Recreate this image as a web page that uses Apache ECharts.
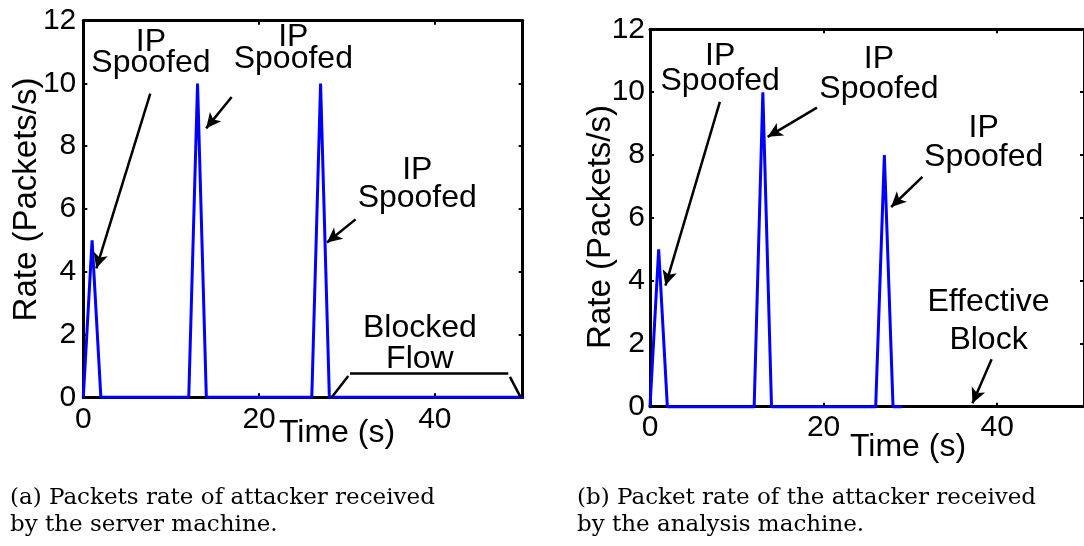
<!DOCTYPE html>
<html>
<head>
<meta charset="utf-8">
<script src="https://cdn.jsdelivr.net/npm/echarts@6/dist/echarts.min.js"></script>
<style>
html, body { margin: 0; padding: 0; background: #fff; }
#main { width: 1084px; height: 546px; }
</style>
</head>
<body>
<div id="main"></div>
<script>
// (a) server machine
var timeA = [0, 1, 2, 12, 13, 14, 26, 27, 28, 50]
var rateA = [0, 5, 0, 0, 10, 0, 0, 10, 0, 0]
// (b) analysis machine
var timeB = [0, 1, 2, 12, 13, 14, 26, 27, 28, 29]
var rateB = [0, 5, 0, 0, 10, 0, 0, 8, 0, 0]

var xTicks = [0, 20, 40]
var yTicks = [0, 2, 4, 6, 8, 10, 12]

// annotations, in data units
var noteTextA = ['IP\nSpoofed', 'IP\nSpoofed', 'IP\nSpoofed', 'Blocked\nFlow']
var noteXA = [7.7, 23.9, 38.0, 38.3]
var noteYA = [10.99, 11.11, 6.8, 1.7]
var arrowsA = [[7.62, 9.68, 1.48, 4.11], [16.88, 9.57, 13.98, 8.57], [30.98, 5.67, 27.73, 4.93]]
var bracketA = [[28.27, 0, 30.15, 0.68], [30.35, 0.765, 48.36, 0.765], [48.55, 0.65, 49.77, 0]]

var noteTextB = ['IP\nSpoofed', 'IP\nSpoofed', 'IP\nSpoofed', 'Effective\nBlock']
var noteXB = [8.08, 26.38, 38.44, 39.0]
var noteYB = [10.76, 10.58, 8.38, 2.71]
var arrowsB = [[8.05, 9.69, 1.78, 3.85], [19.24, 9.51, 13.55, 8.58], [31.38, 7.31, 27.78, 6.35], [39.36, 1.51, 37.15, 0.11]]

var captionA = ['(a) Packets rate of attacker received', 'by the server machine.']
var captionB = ['(b) Packet rate of the attacker received', 'by the analysis machine.']

var lineHA = [21, 22, 28, 31]
var lineHB = [25, 30, 29, 38]

var sans = 'Liberation Sans'
var myChart = echarts.init(document.getElementById('main'))

function zip(xs, ys) {
    var out = []
    for (var i = 0; i < xs.length; i++) out.push([xs[i], ys[i]])
    return out
}

function xAxisOf(g, pos, labelMargin, nameGap, namePad) {
    return {
        type: 'value', gridIndex: g, position: pos,
        min: 0, max: 50, interval: 20,
        axisLine: { show: true, onZero: false, lineStyle: { color: '#000', width: 3 } },
        axisTick: { show: true, inside: true, length: 4, lineStyle: { color: '#000', width: 2 } },
        axisLabel: { show: pos == 'bottom', color: '#000', fontSize: 30, fontFamily: sans, margin: labelMargin, showMaxLabel: false },
        splitLine: { show: false },
        name: pos == 'bottom' ? 'Time (s)' : '',
        nameLocation: 'middle', nameGap: nameGap, nameMoveOverlap: false,
        nameTextStyle: { color: '#000', fontSize: 32, fontFamily: sans, padding: namePad }
    }
}

function yAxisOf(g, pos, labelMargin, nameGap, namePad) {
    return {
        type: 'value', gridIndex: g, position: pos,
        min: 0, max: 12, interval: 2,
        axisLine: { show: true, onZero: false, lineStyle: { color: '#000', width: 3 } },
        axisTick: { show: true, inside: true, length: 4, lineStyle: { color: '#000', width: 2 } },
        axisLabel: { show: pos == 'left', color: '#000', fontSize: 30, fontFamily: sans, margin: labelMargin },
        splitLine: { show: false },
        name: pos == 'left' ? 'Rate (Packets/s)' : '',
        nameLocation: 'middle', nameGap: nameGap, nameMoveOverlap: false,
        nameTextStyle: { color: '#000', fontSize: 33, fontFamily: sans, padding: namePad }
    }
}

function rateSeries(idx, xs, ys, texts, nx, ny, lh, arrows, bracket) {
    var notes = []
    for (var i = 0; i < texts.length; i++) {
        notes.push({ coord: [nx[i], ny[i]], value: 0, label: { formatter: texts[i], lineHeight: lh[i] } })
    }
    var lines = []
    arrows.forEach(function (a) {
        lines.push([{ coord: [a[0], a[1]] }, { coord: [a[2], a[3]] }])
    })
    ;(bracket || []).forEach(function (b) {
        lines.push([{ coord: [b[0], b[1]], symbol: 'none' }, { coord: [b[2], b[3]], symbol: 'none' }])
    })
    return {
        type: 'line', xAxisIndex: idx, yAxisIndex: idx,
        data: zip(xs, ys),
        symbol: 'none', showSymbol: false, clip: false,
        lineStyle: { color: '#0000ff', width: 3 },
        markPoint: {
            symbol: 'circle', symbolSize: 0, silent: true, animation: false,
            itemStyle: { color: 'rgba(0,0,0,0)' },
            label: { show: true, position: 'inside', color: '#000', fontSize: 32, fontFamily: sans },
            data: notes
        },
        markLine: {
            symbol: ['none', 'arrow'], symbolSize: [11, 15], silent: true, animation: false,
            label: { show: false },
            lineStyle: { color: '#000', width: 2.5, type: 'solid' },
            emphasis: { disabled: true },
            data: lines
        }
    }
}

function caption(x, lines) {
    return lines.map(function (t, i) {
        return {
            type: 'text', x: x, y: 498 + i * 27, silent: true,
            style: { text: t, fill: '#000', font: '23px "DejaVu Serif"', verticalAlign: 'middle', align: 'left' }
        }
    })
}

option = {
    animation: false,
    backgroundColor: '#fff',
    grid: [
        { left: 83.3, top: 20.7, width: 439.4, height: 376.6 },
        { left: 650, top: 29.3, width: 439, height: 377.4 }
    ],
    xAxis: [
        xAxisOf(0, 'bottom', 7, 20, [0, 0, 0, 68]),
        xAxisOf(1, 'bottom', 6, 24, [0, 0, 0, 82]),
        xAxisOf(0, 'top', 7, 0, 0),
        xAxisOf(1, 'top', 6, 0, 0)
    ],
    yAxis: [
        yAxisOf(0, 'left', 7, 40, [0, 0, 0, 19]),
        yAxisOf(1, 'left', 5, 33, [0, 18, 0, 0]),
        yAxisOf(0, 'right', 7, 0, 0),
        yAxisOf(1, 'right', 5, 0, 0)
    ],
    series: [
        rateSeries(0, timeA, rateA, noteTextA, noteXA, noteYA, lineHA, arrowsA, bracketA),
        rateSeries(1, timeB, rateB, noteTextB, noteXB, noteYB, lineHB, arrowsB, null)
    ],
    graphic: caption(10, captionA).concat(caption(577, captionB))
}
myChart.setOption(option)
</script>
</body>
</html>
